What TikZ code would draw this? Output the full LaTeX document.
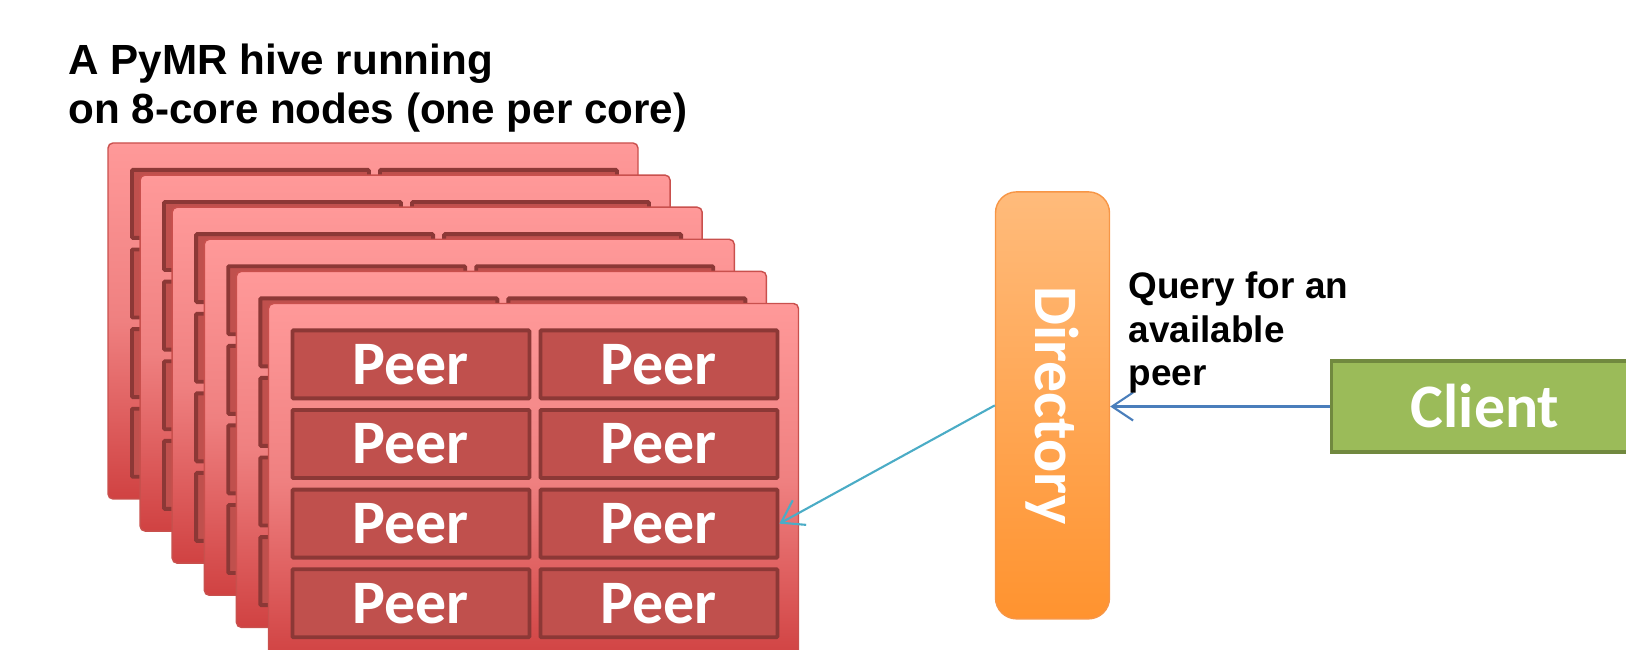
\documentclass[tikz,border=0pt]{standalone}
\usepackage{fontspec}
\setmainfont{Liberation Sans}
\newfontfamily\calibri{Carlito}
\usetikzlibrary{positioning,calc,arrows.meta}
\definecolor{cardtop}{HTML}{FF9999}
\definecolor{cardmid}{HTML}{EF8080}
\definecolor{cardbot}{HTML}{D04242}
\definecolor{cardline}{HTML}{C9504D}
\definecolor{peerfill}{HTML}{C0504D}
\definecolor{peerline}{HTML}{8C3836}
\definecolor{dirtop}{HTML}{FFBB7B}
\definecolor{dirbot}{HTML}{FF932F}
\definecolor{dirline}{HTML}{F79646}
\definecolor{clientfill}{HTML}{9BBB59}
\definecolor{clientline}{HTML}{71893F}
\definecolor{queryblue}{HTML}{4A7EBB}
\definecolor{lookupcyan}{HTML}{4BACC6}
\tikzset{
  title/.style={anchor=north west, inner sep=0, align=left,
    font=\bfseries\fontsize{12}{13.9}\selectfont},
  note/.style={anchor=north west, inner sep=0, align=left,
    font=\bfseries\fontsize{10.5}{12.4}\selectfont},
  card/.style={rectangle, rounded corners=0.5mm, draw=cardline, line width=0.4pt,
    top color=cardtop, bottom color=cardbot, middle color=cardmid,
    minimum width=53mm, minimum height=35.6mm, inner sep=0, outer sep=0,
    anchor=north west},
  peer/.style={rectangle, rounded corners=0.1mm, draw=peerline, fill=peerfill,
    line width=1.1pt, minimum width=23.7mm, minimum height=6.8mm, inner sep=0,
    anchor=north west, text=white, font=\calibri\bfseries\fontsize{17.6}{20}\selectfont},
  dirbox/.style={rectangle, rounded corners=2.1mm, draw=dirline, line width=0.4pt,
    top color=dirtop, bottom color=dirbot, minimum width=11.4mm,
    minimum height=42.7mm, inner sep=0},
  dirtext/.style={rotate=-90, inner sep=0, text=white,
    font=\calibri\bfseries\fontsize{17.6}{20}\selectfont},
  clientbox/.style={rectangle, draw=clientline, fill=clientfill, line width=1.1pt,
    minimum width=30.7mm, minimum height=9.1mm, inner sep=0, text=white,
    font=\calibri\bfseries\fontsize{17.6}{20}\selectfont},
  query/.style={draw=queryblue, line width=0.6pt},
  lookup/.style={draw=lookupcyan, line width=0.6pt}
}
\begin{document}
\begin{tikzpicture}[x=0.1mm, y=-0.1mm, >={Straight Barb[length=2.1mm,width=2.8mm]}]
  \clip (0,0) rectangle (1626,650);
  \node[title] (hive) at (68,43) {A PyMR hive running\\on 8-core nodes (one per core)};
  % six stacked hive nodes, eight peers on each
  \foreach \k in {0,...,5} {
    \node[card] (card\k) at (108+32.1*\k, 143+32.1*\k) {};
    \foreach \r in {0,...,3}
      \foreach \c in {0,1}
        \node[peer] (peer-\k-\r-\c) at ($(card\k.north west)+(22+248*\c, 25+79.6*\r)$)
          {\ifnum\k=5 Peer\fi};
  }
  % directory and client
  \node[dirbox] (dir) at (1052.5,405.4) {};
  \node[dirtext] (dirlabel) at (dir.center) {Directory};
  \node[clientbox] (client) at (1485,406.5) {Client};
  \draw[query,->] (client.west) -- (client.west -| dir.east);
  \draw[lookup,->] (dir.west) -- (peer-5-2-1.east);
  \node[note] (querytext) at (1128,271) {Query for an\\available\\peer};
\end{tikzpicture}
\end{document}
